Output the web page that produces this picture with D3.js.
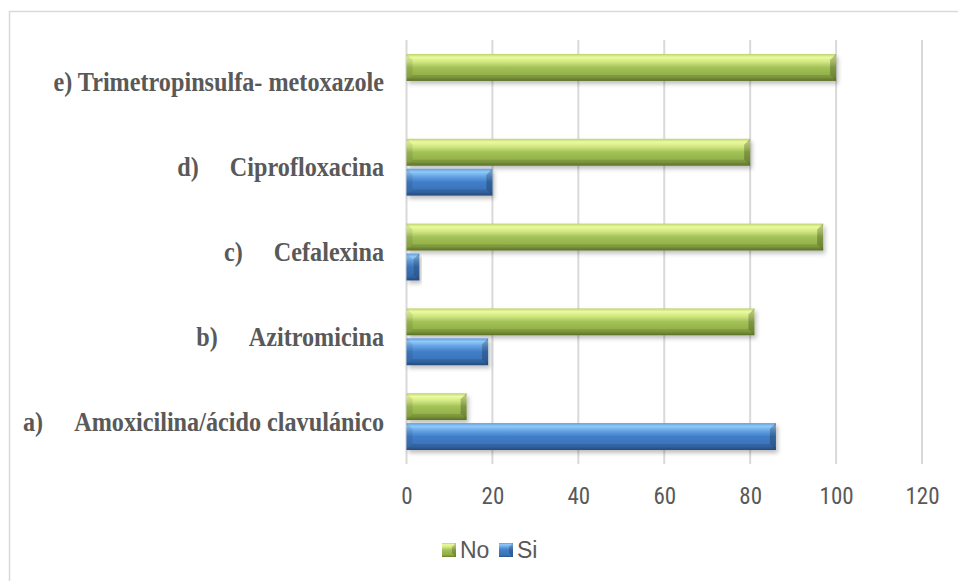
<!DOCTYPE html>
<html>
<head>
<meta charset="utf-8">
<script src="https://cdn.jsdelivr.net/npm/d3@7"></script>
<style>
  html, body { margin: 0; padding: 0; background: #fff; }
  svg { display: block; }
</style>
</head>
<body>
<svg id="chart" width="958" height="581"></svg>
<script>
// Antibiotic usage: "No" vs "Si" per drug (percent)
const categories = [
  "e) Trimetropinsulfa- metoxazole",
  "d)\tCiprofloxacina",
  "c)\tCefalexina",
  "b)\tAzitromicina",
  "a)\tAmoxicilina/ácido clavulánico"
];
const seriesNames = ["No", "Si"];
const noValues = [100, 80, 97, 81, 14];
const siValues = [0, 20, 3, 19, 86];
const tickValues = [0, 20, 40, 60, 80, 100, 120];

const rows = categories.map((c, i) => ({ cat: c, No: noValues[i], Si: siValues[i] }));

const svg = d3.select("#chart");
const W = 958, H = 581;
const plot = { left: 406.5, right: 922, top: 40, bottom: 464 };

// outer chart border
svg.append("rect")
  .attr("x", 9.5).attr("y", 11.5)
  .attr("width", W + 10).attr("height", H + 10)
  .attr("fill", "#fff")
  .attr("stroke", "#d9d9d9").attr("stroke-width", 1.5);

const x = d3.scaleLinear().domain([0, 120]).range([plot.left, plot.right]);
const y0 = d3.scaleBand().domain(categories).range([plot.top, plot.bottom]).paddingInner(0.33).paddingOuter(0.165);
const y1 = d3.scaleBand().domain(seriesNames).range([0, y0.bandwidth()]).paddingInner(0.1);

// gradients & shadow
const defs = svg.append("defs");
const palettes = {
  No: [["0%", "#b9d46c"], ["12%", "#ecfa9f"], ["30%", "#cfe680"], ["50%", "#a2c157"], ["85%", "#8fad45"], ["100%", "#68812e"]],
  Si: [["0%", "#5f9fe0"], ["12%", "#90c9f8"], ["30%", "#62a0e3"], ["50%", "#417ec8"], ["85%", "#3a72b8"], ["100%", "#2a568f"]]
};
Object.entries(palettes).forEach(([k, stops]) => {
  const g = defs.append("linearGradient").attr("id", "grad" + k)
    .attr("x1", 0).attr("x2", 0).attr("y1", 0).attr("y2", 1);
  stops.forEach(s => g.append("stop").attr("offset", s[0]).attr("stop-color", s[1]));
});
const f = defs.append("filter").attr("id", "shadow")
  .attr("x", "-10%").attr("y", "-30%").attr("width", "130%").attr("height", "180%");
f.append("feDropShadow").attr("dx", 2).attr("dy", 3).attr("stdDeviation", 2)
  .attr("flood-color", "#000").attr("flood-opacity", 0.25);

// vertical gridlines
svg.append("g").selectAll("line")
  .data(tickValues)
  .join("line")
  .attr("x1", d => x(d)).attr("x2", d => x(d))
  .attr("y1", plot.top).attr("y2", plot.bottom)
  .attr("stroke", "#d9d9d9").attr("stroke-width", 2);

// bars
const bars = [];
rows.forEach(r => seriesNames.forEach(s => {
  if (r[s] > 0) bars.push({ cat: r.cat, key: s, value: r[s] });
}));

const barG = svg.append("g").selectAll("g")
  .data(bars)
  .join("g")
  .attr("filter", "url(#shadow)");

barG.each(function(d) {
  const g = d3.select(this);
  const bx0 = x(0), bx1 = x(d.value);
  const by0 = y0(d.cat) + y1(d.key), bh = y1.bandwidth(), by1 = by0 + bh;
  const w = bx1 - bx0;
  const b = Math.min(6, w / 2);
  g.append("rect")
    .attr("x", bx0).attr("y", by0).attr("width", w).attr("height", bh)
    .attr("fill", `url(#grad${d.key})`);
  // right bevel
  g.append("path")
    .attr("d", `M${bx1},${by0}L${bx1 - b},${by0 + b}L${bx1 - b},${by1 - b}L${bx1},${by1}Z`)
    .attr("fill", "#000").attr("fill-opacity", 0.22);
  // left bevel
  g.append("path")
    .attr("d", `M${bx0},${by0}L${bx0 + b},${by0 + b}L${bx0 + b},${by1 - b}L${bx0},${by1}Z`)
    .attr("fill", "#000").attr("fill-opacity", 0.08);
  // bottom edge
  g.append("path")
    .attr("d", `M${bx0},${by1}L${bx0 + b},${by1 - b}L${bx1 - b},${by1 - b}L${bx1},${by1}Z`)
    .attr("fill", "#000").attr("fill-opacity", 0.12);
});

// category labels (serif bold, right aligned, tab between letter and name)
const labelRight = 384;
const tabGap = 31;
const labelG = svg.append("g").selectAll("g")
  .data(categories)
  .join("g")
  .attr("transform", d => `translate(0,${y0(d) + y0.bandwidth() / 2}) scale(1,1.12)`);

labelG.each(function(d) {
  const g = d3.select(this);
  const parts = d.split("\t");
  const style = t => t
    .attr("font-family", "'Liberation Serif', 'Times New Roman', serif")
    .attr("font-weight", "bold")
    .attr("font-size", 24.2)
    .attr("fill", "#595959")
    .attr("dy", "0.33em")
    .attr("text-anchor", "end");
  const name = g.append("text").attr("x", labelRight).text(parts[parts.length - 1]).call(style);
  if (parts.length > 1) {
    const nw = name.node().getComputedTextLength();
    g.append("text").attr("x", labelRight - nw - tabGap).text(parts[0]).call(style);
  }
});

// x axis tick labels
const axis = d3.axisBottom(x).tickValues(tickValues).tickSize(0).tickPadding(0);
const axG = svg.append("g").attr("transform", `translate(0,${plot.bottom})`).call(axis);
axG.select(".domain").remove();
axG.selectAll("text")
  .attr("font-family", "'Liberation Sans Narrow', 'Arial Narrow', 'Roboto Condensed', sans-serif")
  .attr("font-size", 23)
  .attr("fill", "#595959")
  .attr("y", 32)
  .attr("dy", "0.35em");

// legend
const legend = svg.append("g").attr("transform", "translate(442,543)");
const legendItems = [{ key: "No", dx: 0 }, { key: "Si", dx: 57 }];
legendItems.forEach(it => {
  const lg = legend.append("g").attr("transform", `translate(${it.dx},0)`);
  lg.append("rect").attr("width", 14).attr("height", 14).attr("fill", `url(#grad${it.key})`);
  lg.append("path").attr("d", "M14,0L10,4L10,10L14,14Z").attr("fill", "#000").attr("fill-opacity", 0.2);
  lg.append("text").attr("x", 18).attr("y", 7).attr("dy", "0.36em")
    .attr("font-family", "'Liberation Sans Narrow', 'Arial Narrow', sans-serif")
    .attr("font-size", 23).attr("fill", "#595959")
    .text(it.key);
});
</script>
</body>
</html>
